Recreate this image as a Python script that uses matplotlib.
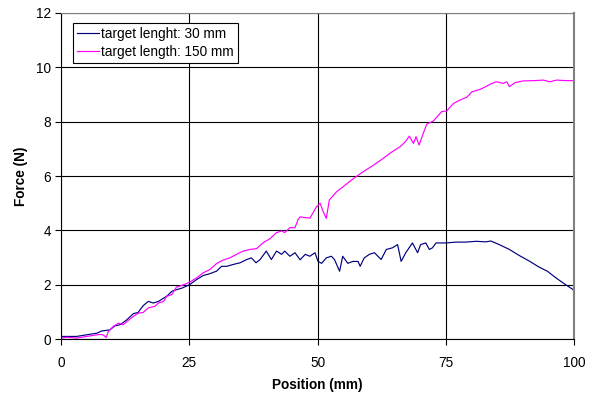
import matplotlib
matplotlib.use("Agg")
import matplotlib.pyplot as plt

plt.rcParams["font.family"] = ["Liberation Sans", "DejaVu Sans"]
plt.rcParams["font.size"] = 9.8

# target length 30 mm (position in mm, force in N)
x_30 = [0, 3, 5, 7, 7.9, 9.5, 10.5, 11.5, 12.8, 14.1, 15, 16, 17, 18, 19, 20,
        20.6, 21.6, 22.5, 23.6, 25, 26.4, 27.7, 29, 30.3, 31.3, 32.3, 33.6,
        34.9, 36.2, 37.1, 38, 38.8, 40, 41, 42, 43, 43.6, 44.6, 45.6, 46.6,
        47.6, 48.5, 49.5, 50.1, 50.8, 51.7, 52.7, 53.3, 54.3, 54.9, 55.9,
        56.9, 57.9, 58.3, 59.1, 60.1, 61.1, 62.4, 63.4, 64.6, 65.6, 66.3,
        67.2, 68.5, 69.5, 70.1, 71.1, 71.8, 72.4, 73.1, 75, 77, 78.9, 80.9,
        82.8, 83.8, 85.4, 87.4, 89.3, 91.3, 93.2, 94.8, 96.5, 98.4, 100]
f_30 = [0.1, 0.1, 0.16, 0.22, 0.3, 0.34, 0.49, 0.53, 0.71, 0.94, 0.98, 1.23,
        1.39, 1.33, 1.39, 1.51, 1.58, 1.76, 1.82, 1.88, 2.0, 2.19, 2.34,
        2.41, 2.5, 2.68, 2.68, 2.75, 2.81, 2.93, 2.99, 2.81, 2.93, 3.24,
        2.93, 3.24, 3.12, 3.24, 3.05, 3.18, 2.92, 3.12, 3.05, 3.18, 2.86,
        2.79, 2.99, 3.05, 2.93, 2.5, 3.05, 2.79, 2.86, 2.86, 2.68, 2.99,
        3.12, 3.18, 2.93, 3.30, 3.36, 3.48, 2.86, 3.18, 3.54, 3.18, 3.48,
        3.54, 3.30, 3.36, 3.54, 3.54, 3.57, 3.57, 3.6, 3.58, 3.61, 3.48,
        3.30, 3.08, 2.87, 2.65, 2.50, 2.25, 2.0, 1.8]

# target length 150 mm
x_150 = [0, 1.1, 3, 5, 7, 7.6, 8.2, 8.8, 9.2, 10.2, 11.2, 12.1, 13.1, 14.1,
         15.1, 16, 17, 18.3, 19, 20, 20.6, 21.6, 22.5, 23.5, 25, 26.4, 27.7,
         29, 30.3, 31.6, 32.9, 34.2, 35.5, 36.8, 38.1, 39.4, 40.7, 42, 43,
         43.6, 44.6, 45.6, 46.2, 46.6, 48.5, 49.8, 50.5, 51.1, 51.7, 52.3,
         53.7, 55.4, 57, 58.9, 60.9, 62.8, 64.5, 66.1, 67.1, 67.9, 68.7,
         69.2, 69.8, 70.6, 71.3, 72.6, 74.2, 75.2, 76.5, 77.8, 79.1, 80.1,
         81.7, 83.0, 84.0, 84.9, 86.2, 86.9, 87.4, 88.5, 90.1, 92.1, 94.0,
         95.3, 96.6, 98.6, 100]
f_150 = [0.04, 0.07, 0.04, 0.1, 0.16, 0.17, 0.16, 0.06, 0.28, 0.47, 0.59,
         0.53, 0.69, 0.84, 0.96, 0.98, 1.15, 1.21, 1.33, 1.39, 1.58, 1.64,
         1.92, 1.97, 2.09, 2.25, 2.44, 2.56, 2.78, 2.91, 2.99, 3.12, 3.24,
         3.30, 3.33, 3.55, 3.69, 3.92, 3.98, 3.92, 4.1, 4.1, 4.4, 4.5, 4.45,
         4.87, 5.0, 4.69, 4.44, 5.12, 5.42, 5.67, 5.91, 6.16, 6.40, 6.65,
         6.89, 7.08, 7.26, 7.47, 7.2, 7.45, 7.14, 7.57, 7.91, 8.03, 8.37,
         8.40, 8.67, 8.80, 8.90, 9.10, 9.19, 9.31, 9.41, 9.47, 9.41, 9.47,
         9.29, 9.44, 9.50, 9.51, 9.53, 9.47, 9.53, 9.51, 9.51]

fig = plt.figure(figsize=(5.93, 3.93), dpi=100)
ax = fig.add_axes([0.103, 0.137, 0.865, 0.830])

ax.plot(x_30, f_30, color="#000080", lw=0.85, label="target lenght: 30 mm")
ax.plot(x_150, f_150, color="#FF00FF", lw=0.85, label="target length: 150 mm")

ax.set_xlim(0, 100)
ax.set_ylim(0, 12)
ax.set_xticks([0, 25, 50, 75, 100])
ax.set_yticks([0, 2, 4, 6, 8, 10, 12])
ax.grid(True, color="black", lw=0.8)
ax.tick_params(direction="out", length=4, width=0.8, color="black")
ax.tick_params(axis="x", pad=8)
ax.tick_params(axis="y", pad=3)

ax.spines["left"].set_color("black")
ax.spines["bottom"].set_color("black")
ax.spines["top"].set_color("#808080")
ax.spines["right"].set_color("#808080")
ax.spines["right"].set_linewidth(1.5)

ax.set_xlabel("Position (mm)", fontweight="bold", labelpad=6)
ax.set_ylabel("Force (N)", fontweight="bold", labelpad=6)

leg = ax.legend(loc="upper left", bbox_to_anchor=(0.023, 0.97), frameon=True,
                fancybox=False, edgecolor="black", framealpha=1,
                handlelength=1.6, handletextpad=0.2, borderpad=0.3,
                labelspacing=0.3, borderaxespad=0)
leg.get_frame().set_linewidth(0.8)

fig.savefig("out.png", dpi=100)
